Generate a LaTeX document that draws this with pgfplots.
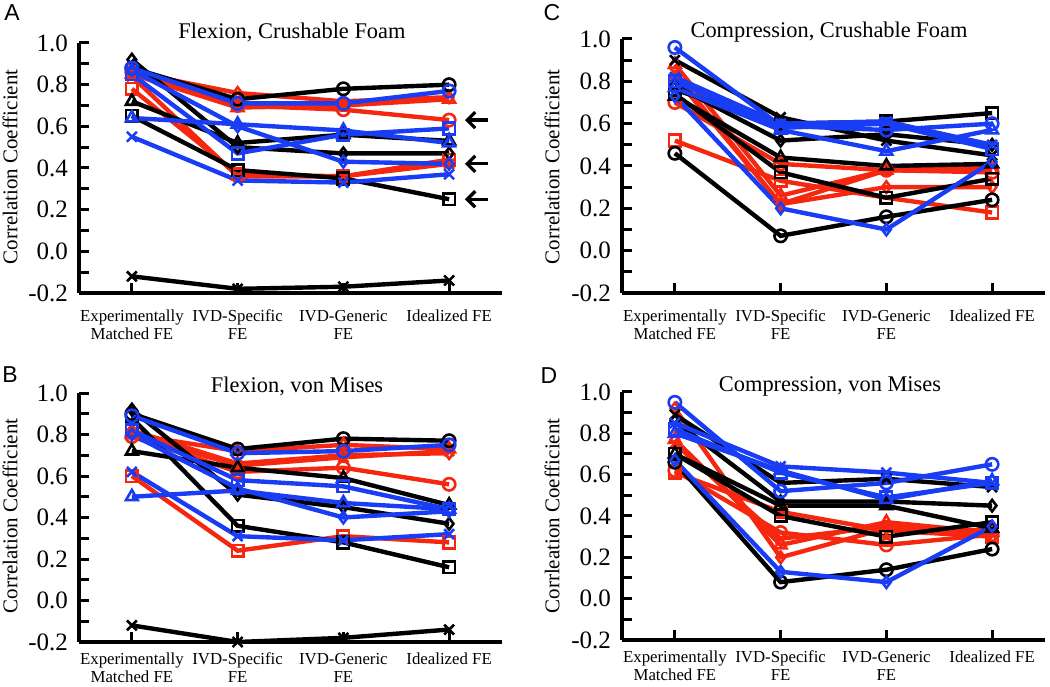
\documentclass[border=0pt]{standalone}
\usepackage{fontspec}
\setmainfont{Liberation Serif}
\newfontfamily\sansf{Liberation Sans}
\usepackage{pgfplots}
\pgfplotsset{compat=1.18}
\usetikzlibrary{arrows.meta}
\definecolor{myred}{RGB}{245,40,15}
\definecolor{myblue}{RGB}{25,60,245}
\pgfplotsset{
 panel/.style={
  scale only axis, width=211.5pt,
  xmin=-0.5, xmax=3.5, ymin=-0.2, ymax=1.0,
  axis lines=left, axis line style={-, line width=1.8pt},
  xtick={0,1,2,3},
  xticklabels={{Experimentally\\Matched FE},{IVD-Specific\\FE},{IVD-Generic\\FE},{Idealized FE}},
  xticklabel style={align=center, font=\fontsize{8.4}{9}\selectfont, anchor=north, yshift=-5pt},
  ytick={-0.2,0,0.2,0.4,0.6,0.8,1.0},
  yticklabels={-0.2,0.0,0.2,0.4,0.6,0.8,1.0},
  minor ytick={-0.1,0.1,0.3,0.5,0.7,0.9},
  tick align=inside, major tick length=5pt, minor tick length=5pt,
  every tick/.style={line width=1.5pt, black},
  yticklabel style={font=\fontsize{12.5}{14}\selectfont, xshift=-2pt},
  clip=false,
 },
 lowpanel/.style={xticklabel style={yshift=3pt}},
 ser/.style={color=#1, line width=2.2pt,
   mark options={fill=white, line width=1.3pt, solid}},
}
\newcommand{\srd}[2]{\addplot[ser=#1, mark=diamond, mark size=2.9pt] coordinates {#2};}
\newcommand{\srx}[2]{\addplot[ser=#1, mark=x, mark size=3.5pt] coordinates {#2};}
\newcommand{\srt}[2]{\addplot[ser=#1, mark=triangle, mark size=3.4pt] coordinates {#2};}
\newcommand{\srq}[2]{\addplot[ser=#1, mark=square, mark size=2.9pt] coordinates {#2};}
\newcommand{\src}[2]{\addplot[ser=#1, mark=o, mark size=3.1pt] coordinates {#2};}
\begin{document}
\begin{tikzpicture}
\useasboundingbox (0,0) rectangle (525pt,343pt);
% ---------------- Panel A ----------------
\begin{axis}[panel, at={(39.5pt,196.5pt)}, height=125pt]
\srd{myred}{(0,0.86)(1,0.76)(2,0.72)(3,0.74)}
\srt{myred}{(0,0.85)(1,0.69)(2,0.70)(3,0.73)}
\src{myred}{(0,0.86)(1,0.70)(2,0.68)(3,0.63)}
\srq{myred}{(0,0.78)(1,0.37)(2,0.36)(3,0.44)}
\srx{myred}{(0,0.84)(1,0.36)(2,0.36)(3,0.42)}
\src{black}{(0,0.88)(1,0.73)(2,0.78)(3,0.80)}
\srd{black}{(0,0.92)(1,0.50)(2,0.47)(3,0.47)}
\srt{black}{(0,0.72)(1,0.52)(2,0.56)(3,0.53)}
\srq{black}{(0,0.65)(1,0.39)(2,0.35)(3,0.25)}
\srx{black}{(0,-0.12)(1,-0.18)(2,-0.17)(3,-0.14)}
\src{myblue}{(0,0.88)(1,0.71)(2,0.71)(3,0.77)}
\srq{myblue}{(0,0.85)(1,0.47)(2,0.56)(3,0.59)}
\srt{myblue}{(0,0.64)(1,0.61)(2,0.58)(3,0.52)}
\srd{myblue}{(0,0.87)(1,0.60)(2,0.43)(3,0.42)}
\srx{myblue}{(0,0.55)(1,0.34)(2,0.33)(3,0.37)}
\draw[-{Straight Barb[length=4pt,width=8pt]}, line width=1.6pt] (axis cs:3.37,0.63) -- (axis cs:3.15,0.63);
\draw[-{Straight Barb[length=4pt,width=8pt]}, line width=1.6pt] (axis cs:3.37,0.42) -- (axis cs:3.15,0.42);
\draw[-{Straight Barb[length=4pt,width=8pt]}, line width=1.6pt] (axis cs:3.37,0.25) -- (axis cs:3.15,0.25);
\end{axis}
% ---------------- Panel C ----------------
\begin{axis}[panel, at={(311pt,196.5pt)}, height=127pt]
\srt{myred}{(0,0.88)(1,0.26)(2,0.38)(3,0.38)}
\srd{myred}{(0,0.82)(1,0.22)(2,0.30)(3,0.30)}
\src{myred}{(0,0.70)(1,0.41)(2,0.38)(3,0.37)}
\srq{myred}{(0,0.52)(1,0.33)(2,0.25)(3,0.18)}
\srx{myred}{(0,0.84)(1,0.22)(2,0.38)(3,0.40)}
\src{black}{(0,0.46)(1,0.07)(2,0.16)(3,0.24)}
\srq{black}{(0,0.74)(1,0.37)(2,0.25)(3,0.34)}
\srq{black}{(0,0.76)(1,0.60)(2,0.61)(3,0.65)}
\srt{black}{(0,0.73)(1,0.44)(2,0.40)(3,0.41)}
\srd{black}{(0,0.78)(1,0.52)(2,0.55)(3,0.50)}
\srx{black}{(0,0.90)(1,0.63)(2,0.52)(3,0.45)}
\src{myblue}{(0,0.96)(1,0.59)(2,0.57)(3,0.60)}
\srx{myblue}{(0,0.82)(1,0.60)(2,0.61)(3,0.50)}
\srt{myblue}{(0,0.77)(1,0.57)(2,0.47)(3,0.57)}
\srd{myblue}{(0,0.73)(1,0.20)(2,0.10)(3,0.42)}
\srq{myblue}{(0,0.80)(1,0.58)(2,0.60)(3,0.48)}
\end{axis}
% ---------------- Panel B ----------------
\begin{axis}[panel, lowpanel, at={(39.5pt,22pt)}, height=124.5pt]
\srd{myred}{(0,0.82)(1,0.66)(2,0.70)(3,0.71)}
\srt{myred}{(0,0.80)(1,0.72)(2,0.75)(3,0.73)}
\src{myred}{(0,0.79)(1,0.62)(2,0.64)(3,0.56)}
\srq{myred}{(0,0.60)(1,0.24)(2,0.31)(3,0.28)}
\srx{myred}{(0,0.80)(1,0.65)(2,0.69)(3,0.72)}
\src{black}{(0,0.90)(1,0.73)(2,0.78)(3,0.77)}
\srd{black}{(0,0.92)(1,0.51)(2,0.45)(3,0.37)}
\srt{black}{(0,0.72)(1,0.64)(2,0.59)(3,0.46)}
\srq{black}{(0,0.88)(1,0.36)(2,0.28)(3,0.16)}
\srx{black}{(0,-0.12)(1,-0.20)(2,-0.18)(3,-0.14)}
\src{myblue}{(0,0.89)(1,0.71)(2,0.72)(3,0.75)}
\srq{myblue}{(0,0.82)(1,0.58)(2,0.55)(3,0.44)}
\srt{myblue}{(0,0.50)(1,0.53)(2,0.47)(3,0.44)}
\srd{myblue}{(0,0.80)(1,0.54)(2,0.40)(3,0.43)}
\srx{myblue}{(0,0.62)(1,0.31)(2,0.29)(3,0.32)}
\end{axis}
% ---------------- Panel D ----------------
\begin{axis}[panel, lowpanel, at={(311pt,23pt)}, height=124pt]
\src{myred}{(0,0.62)(1,0.32)(2,0.26)(3,0.31)}
\srq{myred}{(0,0.61)(1,0.42)(2,0.33)(3,0.30)}
\srt{myred}{(0,0.77)(1,0.26)(2,0.37)(3,0.32)}
\srd{myred}{(0,0.92)(1,0.20)(2,0.34)(3,0.33)}
\srx{myred}{(0,0.75)(1,0.29)(2,0.35)(3,0.31)}
\src{black}{(0,0.66)(1,0.08)(2,0.14)(3,0.24)}
\srq{black}{(0,0.70)(1,0.40)(2,0.30)(3,0.37)}
\srt{black}{(0,0.70)(1,0.45)(2,0.45)(3,0.34)}
\srd{black}{(0,0.86)(1,0.47)(2,0.47)(3,0.45)}
\srx{black}{(0,0.89)(1,0.56)(2,0.58)(3,0.54)}
\src{myblue}{(0,0.95)(1,0.52)(2,0.56)(3,0.65)}
\srx{myblue}{(0,0.85)(1,0.64)(2,0.61)(3,0.56)}
\srq{myblue}{(0,0.82)(1,0.61)(2,0.49)(3,0.56)}
\srt{myblue}{(0,0.80)(1,0.62)(2,0.48)(3,0.57)}
\srd{myblue}{(0,0.67)(1,0.13)(2,0.08)(3,0.35)}
\end{axis}
% ---------------- Titles and labels ----------------
\node[font=\fontsize{11.2}{13}\selectfont] at (146pt,327pt) {Flexion, Crushable Foam};
\node[font=\fontsize{11.2}{13}\selectfont] at (414.5pt,327pt) {Compression, Crushable Foam};
\node[font=\fontsize{11.2}{13}\selectfont] at (148.5pt,150pt) {Flexion, von Mises};
\node[font=\fontsize{11.2}{13}\selectfont] at (415pt,150pt) {Compression, von Mises};
\node[font=\sansf\fontsize{11.5}{13}\selectfont] at (6pt,336.5pt) {A};
\node[font=\sansf\fontsize{11.5}{13}\selectfont] at (276pt,336.5pt) {C};
\node[font=\sansf\fontsize{11.5}{13}\selectfont] at (5pt,155.5pt) {B};
\node[font=\sansf\fontsize{11.5}{13}\selectfont] at (274.5pt,155pt) {D};
\node[rotate=90, font=\fontsize{10.5}{12}\selectfont] at (5pt,259.5pt) {Correlation Coefficient};
\node[rotate=90, font=\fontsize{10.5}{12}\selectfont] at (276pt,259.5pt) {Correlation Coefficient};
\node[rotate=90, font=\fontsize{10.5}{12}\selectfont] at (5pt,85pt) {Correlation Coefficient};
\node[rotate=90, font=\fontsize{10.5}{12}\selectfont] at (276pt,85pt) {Corrleation Coefficient};
\end{tikzpicture}
\end{document}
